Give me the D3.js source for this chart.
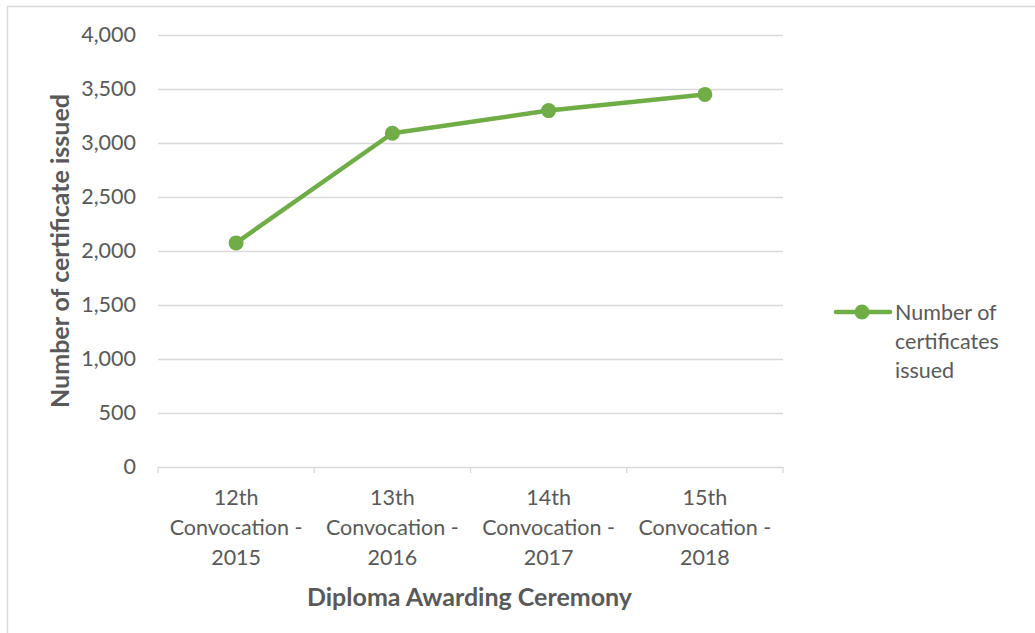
<!DOCTYPE html>
<html><head><meta charset="utf-8">
<script src="https://cdn.jsdelivr.net/npm/d3@7"></script>
<style>body{margin:0;background:#fff;} text{font-family:Lato,"Open Sans",sans-serif;}</style>
</head><body><svg id="c" width="1035" height="633"></svg>
<script>
const categories = [["12th","Convocation -","2015"],["13th","Convocation -","2016"],["14th","Convocation -","2017"],["15th","Convocation -","2018"]];
const catKeys = ["2015","2016","2017","2018"];
const values = [2075, 3090, 3300, 3450];
const yTicks = [0,500,1000,1500,2000,2500,3000,3500,4000];
const seriesName = ["Number of","certificates","issued"];
const xTitle = "Diploma Awarding Ceremony";
const yTitle = "Number of certificate issued";

const svg = d3.select("#c");
const txt = "#595959";
svg.append("rect").attr("x",7.5).attr("y",6.5).attr("width",1040).attr("height",640)
  .attr("fill","#fff").attr("stroke","#d9d9d9").attr("stroke-width",1.5);

const L=158, R=783, T=35, B=467;
const x = d3.scaleBand().domain(catKeys).range([L,R]);
const y = d3.scaleLinear().domain([0,4000]).range([B,T]);

// gridlines
svg.append("g").selectAll("line").data(yTicks.filter(d=>d>0)).join("line")
  .attr("x1",L).attr("x2",R).attr("y1",d=>y(d)+0.5).attr("y2",d=>y(d)+0.5)
  .attr("stroke","#d9d9d9").attr("stroke-width",1.3);

// y axis labels
const ya = svg.append("g").attr("transform",`translate(${L},0)`)
  .call(d3.axisLeft(y).tickValues(yTicks).tickSize(0).tickPadding(22).tickFormat(d3.format(",")));
ya.select(".domain").remove();
ya.selectAll("text").attr("fill",txt).style("font-size","21.5px").style("font-family","Lato,'Open Sans',sans-serif");

// x axis
const xa = svg.append("g").attr("transform",`translate(0,${B+0.5})`)
  .call(d3.axisBottom(x).tickSize(0).tickFormat(""));
xa.select(".domain").attr("stroke","#d9d9d9").attr("stroke-width",1.3).attr("d",`M${L},0H${R}`);
svg.append("g").selectAll("line").data(d3.range(5)).join("line")
  .attr("x1",i=>L+i*x.step()).attr("x2",i=>L+i*x.step())
  .attr("y1",B).attr("y2",B+6).attr("stroke","#d9d9d9").attr("stroke-width",1.3);

// category labels
const cl = svg.append("g").selectAll("text").data(categories).join("text")
  .attr("x",(d,i)=>x(catKeys[i])+x.bandwidth()/2).attr("y",505)
  .attr("text-anchor","middle").attr("fill",txt).style("font-size","21.5px");
cl.selectAll("tspan").data(d=>d).join("tspan")
  .attr("x",function(){return this.parentNode.getAttribute("x");})
  .attr("dy",(d,i)=>i===0?0:30).text(d=>d);

// axis titles
svg.append("text").attr("x",(L+R)/2-1).attr("y",606).attr("text-anchor","middle")
  .attr("fill",txt).style("font-size","25px").style("font-weight","bold").text(xTitle);
svg.append("text").attr("transform",`translate(69,251) rotate(-90)`).attr("text-anchor","middle")
  .attr("fill",txt).style("font-size","25px").style("font-weight","bold").text(yTitle);

// line
const color = "#70ad47";
const line = d3.line().x((d,i)=>x(catKeys[i])+x.bandwidth()/2).y(d=>y(d));
svg.append("path").datum(values).attr("d",line).attr("fill","none")
  .attr("stroke",color).attr("stroke-width",4.5).attr("stroke-linejoin","round");
svg.append("g").selectAll("circle").data(values).join("circle")
  .attr("cx",(d,i)=>x(catKeys[i])+x.bandwidth()/2).attr("cy",d=>y(d)).attr("r",7.5).attr("fill",color);

// legend
const lg = svg.append("g");
lg.append("line").attr("x1",836).attr("x2",890).attr("y1",312).attr("y2",312)
  .attr("stroke",color).attr("stroke-width",4.5).attr("stroke-linecap","round");
lg.append("circle").attr("cx",862).attr("cy",312).attr("r",7.5).attr("fill",color);
lg.append("text").attr("x",895).attr("y",320).attr("fill",txt).style("font-size","21.5px")
  .selectAll("tspan").data(seriesName).join("tspan").attr("x",895).attr("dy",(d,i)=>i===0?0:29).text(d=>d);
</script></body></html>
